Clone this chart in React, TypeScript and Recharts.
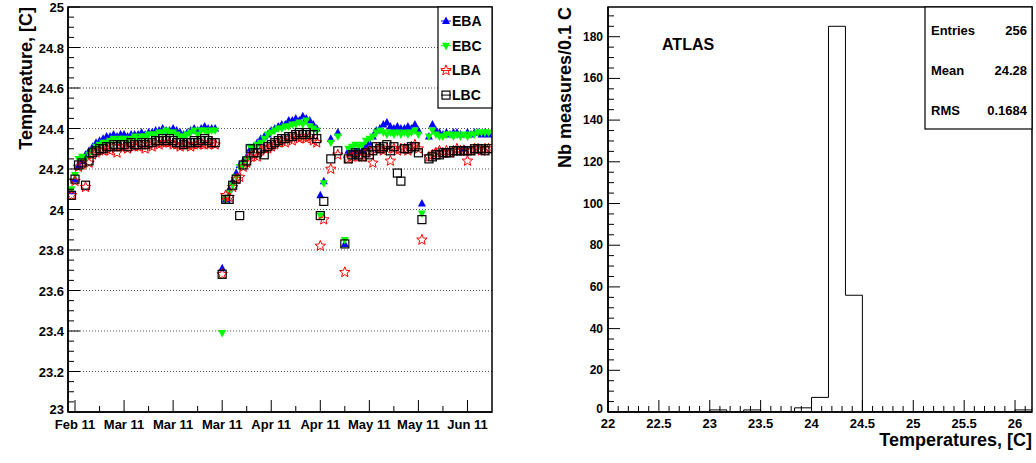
import React from 'react';
import { ScatterChart, Scatter, LineChart, Line, XAxis, YAxis, ReferenceLine } from 'recharts';

const FONT = '"Liberation Sans", Arial, Helvetica, sans-serif';

// ---- left panel: module temperatures vs. time (x = days since 13 Feb 2011) ----
const days = [
  1, 2, 3, 4, 5, 6, 7, 8, 9, 10, 11, 12, 13, 14, 15, 16, 17, 18, 19, 20, 21, 22, 23, 24, 25, 26, 27, 28, 29, 30, 31, 32, 33, 34, 35, 36, 37, 38, 39, 40, 41, 42,
  44, 45, 46, 47, 48, 49, 50, 51, 52, 53, 54, 55, 56, 57, 58, 59, 60, 61, 62, 63, 64, 65, 66, 67, 68, 69, 70, 71,
  72, 73, 75, 77, 79,
  80, 81, 82, 83, 84, 85, 86, 87, 88, 89, 90, 91, 92, 93, 94, 95, 96, 97, 98, 99, 100,
  101,
  103, 104, 105, 106, 107, 108, 109, 110, 111, 112, 113, 114, 115, 116, 117, 118, 119, 120,
];

const eba = [
  24.09, 24.15, 24.22, 24.24, 24.27, 24.29, 24.31, 24.33, 24.34, 24.35,
  24.36, 24.36, 24.37, 24.36, 24.37, 24.37, 24.36, 24.37, 24.37, 24.37,
  24.38, 24.37, 24.38, 24.38, 24.39, 24.39, 24.40, 24.39, 24.39, 24.40,
  24.39, 24.38, 24.37, 24.38, 24.39, 24.40, 24.39, 24.40, 24.41, 24.40, 24.40, 24.40,
  23.71, 24.05, 24.10, 24.14, 24.18, 24.22, 24.24, 24.26, 24.30, 24.31,
  24.33, 24.35, 24.36, 24.37, 24.39, 24.40, 24.41, 24.42, 24.42, 24.44,
  24.44, 24.45, 24.44, 24.46, 24.45, 24.44, 24.42, 24.40,
  24.07, 24.14, 24.35, 24.38, 23.83,
  24.29, 24.28, 24.29, 24.29, 24.29, 24.31, 24.33, 24.36, 24.39, 24.40, 24.42,
  24.43, 24.41, 24.40, 24.41, 24.40, 24.40, 24.41, 24.40, 24.42, 24.39,
  24.03,
  24.36, 24.42, 24.39, 24.38, 24.37, 24.38, 24.37, 24.38, 24.38, 24.37, 24.30, 24.38, 24.37, 24.38, 24.38, 24.37, 24.38, 24.37,
];

const ebc = [
  24.10, 24.17, 24.25, 24.26, 24.25, 24.27, 24.29, 24.31, 24.32, 24.33,
  24.33, 24.34, 24.35, 24.34, 24.35, 24.35, 24.34, 24.35, 24.36, 24.35,
  24.36, 24.36, 24.37, 24.37, 24.37, 24.38, 24.38, 24.39, 24.38, 24.38,
  24.37, 24.36, 24.36, 24.37, 24.38, 24.39, 24.37, 24.39, 24.39, 24.38, 24.39, 24.39,
  23.39, 24.05, 24.08, 24.12, 24.16, 24.21, 24.22, 24.25, 24.31, 24.30,
  24.32, 24.33, 24.35, 24.37, 24.38, 24.39, 24.40, 24.40, 24.41, 24.41,
  24.42, 24.42, 24.43, 24.42, 24.44, 24.41, 24.40, 24.39,
  23.97, 24.13, 24.33, 24.36, 23.85,
  24.30, 24.31, 24.32, 24.31, 24.32, 24.34, 24.35, 24.36, 24.38, 24.39, 24.38,
  24.37, 24.38, 24.37, 24.38, 24.37, 24.38, 24.37, 24.38, 24.39, 24.37,
  23.98,
  24.36, 24.39, 24.37, 24.36, 24.36, 24.37, 24.37, 24.36, 24.37, 24.36, 24.37, 24.36, 24.37, 24.37, 24.38, 24.38, 24.38, 24.38,
];

const lba = [
  24.07, 24.14, 24.21, 24.22, 24.11, 24.23, 24.27, 24.28, 24.29, 24.29,
  24.30, 24.29, 24.31, 24.28, 24.31, 24.31, 24.30, 24.32, 24.31, 24.31,
  24.32, 24.30, 24.32, 24.31, 24.33, 24.32, 24.33, 24.33, 24.33, 24.32,
  24.32, 24.31, 24.32, 24.32, 24.31, 24.32, 24.32, 24.33, 24.32, 24.32, 24.33, 24.32,
  23.68, 24.07, 24.06, 24.11, 24.15, 24.16, 24.21, 24.23, 24.26, 24.27,
  24.26, 24.29, 24.30, 24.30, 24.31, 24.32, 24.33, 24.34, 24.33, 24.35,
  24.34, 24.36, 24.35, 24.36, 24.35, 24.36, 24.34, 24.33,
  23.82, 23.95, 24.20, 24.27, 23.69,
  24.25, 24.26, 24.27, 24.26, 24.26, 24.28, 24.29, 24.23, 24.30, 24.30, 24.29,
  24.30, 24.24, 24.30, 24.29, 24.30, 24.30, 24.29, 24.31, 24.32, 24.30,
  23.85,
  24.26, 24.27, 24.28, 24.29, 24.28, 24.29, 24.28, 24.29, 24.30, 24.29, 24.29, 24.24, 24.29, 24.30, 24.30, 24.29, 24.30, 24.30,
];

const lbc = [
  24.07, 24.15, 24.22, 24.23, 24.12, 24.24, 24.28, 24.29, 24.30, 24.30,
  24.31, 24.31, 24.32, 24.31, 24.32, 24.32, 24.31, 24.33, 24.32, 24.32,
  24.33, 24.32, 24.33, 24.33, 24.34, 24.34, 24.35, 24.34, 24.35, 24.34,
  24.33, 24.33, 24.32, 24.33, 24.33, 24.34, 24.33, 24.34, 24.35, 24.34, 24.33, 24.33,
  23.68, 24.05, 24.05, 24.12, 24.15, 23.97, 24.22, 24.24, 24.30, 24.28,
  24.28, 24.30, 24.27, 24.31, 24.32, 24.33, 24.34, 24.35, 24.35, 24.36,
  24.36, 24.37, 24.38, 24.37, 24.38, 24.37, 24.37, 24.35,
  23.97, 24.04, 24.25, 24.29, 23.83,
  24.25, 24.27, 24.28, 24.27, 24.26, 24.28, 24.27, 24.29, 24.31, 24.30, 24.31,
  24.32, 24.29, 24.31, 24.18, 24.14, 24.30, 24.30, 24.31, 24.31, 24.28,
  23.95,
  24.25, 24.26, 24.27, 24.27, 24.28, 24.28, 24.28, 24.29, 24.29, 24.29, 24.29, 24.29, 24.29, 24.30, 24.30, 24.30, 24.29, 24.30,
];

const dateTicks = [2, 16, 30, 44, 58, 72, 86, 100, 114];
const dateLabels = ['Feb 11', 'Mar 11', 'Mar 11', 'Mar 11', 'Apr 11', 'Apr 11', 'May 11', 'May 11', 'Jun 11'];
const dateMinor = [9, 23, 37, 51, 65, 79, 93, 107];
const tempGrid = [23.2, 23.4, 23.6, 23.8, 24, 24.2, 24.4, 24.6, 24.8];

// ---- right panel: histogram of temperatures ----
const histLow = 22;
const binWidth = 1 / 6;
const counts = [0, 0, 0, 0, 0, 0, 1, 0, 1, 0, 0, 2, 7, 185, 56, 0, 0, 0, 0, 0, 0, 0, 0, 0, 1];
const statNames = ['Entries', 'Mean', 'RMS'];
const statValues = ['256', '24.28', '0.1684'];

const histHigh = histLow + counts.length * binWidth;
const histData = counts.map((n, i) => ({ x: histLow + i * binWidth, n }));
histData.push({ x: histHigh, n: counts[counts.length - 1] });

const dateAll = [...dateTicks, ...dateMinor].sort((a, b) => a - b);
const tempTicks = Array.from({ length: 41 }, (_, i) => +(23 + i * 0.05).toFixed(2));
const histXTicks = Array.from({ length: 42 }, (_, i) => +(22 + i * 0.1).toFixed(1));
const histYTicks = Array.from({ length: 39 }, (_, i) => i * 5);

const series = (vals: number[]) => days.map((d, i) => ({ day: d, t: vals[i] }));

const txt = { fontFamily: FONT, fontWeight: 'bold' as const, fill: '#000' };

const DateTick = ({ x, y, payload }: any) => {
  const i = dateTicks.indexOf(payload.value);
  return (
    <g>
      <line x1={x} y1={y} x2={x} y2={y - (i >= 0 ? 12 : 6)} stroke="#000" />
      {i >= 0 && (
        <text x={x} y={y + 17} textAnchor="middle" fontSize={13} {...txt}>{dateLabels[i]}</text>
      )}
    </g>
  );
};

const TempTick = ({ x, y, payload }: any) => {
  const v = payload.value;
  const major = Math.abs(v * 5 - Math.round(v * 5)) < 1e-6;
  // lowest label sits a little higher, as in the original
  const dy = v === 23 ? 2 : 5;
  return (
    <g>
      <line x1={x} y1={y} x2={x + (major ? 12 : 6)} y2={y} stroke="#000" />
      {major && (
        <text x={x - 4} y={y + dy} textAnchor="end" fontSize={13} {...txt}>{String(+v.toFixed(1))}</text>
      )}
    </g>
  );
};

const HistXTick = ({ x, y, payload }: any) => {
  const v = payload.value;
  const major = Math.abs(v * 2 - Math.round(v * 2)) < 1e-6;
  return (
    <g>
      <line x1={x} y1={y} x2={x} y2={y - (major ? 12 : 6)} stroke="#000" />
      {major && (
        <text x={x} y={y + 16} textAnchor="middle" fontSize={13} {...txt}>{String(v)}</text>
      )}
    </g>
  );
};

const HistYTick = ({ x, y, payload }: any) => {
  const v = payload.value;
  const major = v % 20 === 0;
  const dy = v === 0 ? 1 : 4;
  return (
    <g>
      <line x1={x} y1={y} x2={x + (major ? 12 : 6)} y2={y} stroke="#000" />
      {major && (
        <text x={x - 5} y={y + dy} textAnchor="end" fontSize={12} {...txt}>{String(v)}</text>
      )}
    </g>
  );
};

const triUp = (cx: number, cy: number) => `${cx},${cy - 4.5} ${cx - 4},${cy + 3} ${cx + 4},${cy + 3}`;
const triDown = (cx: number, cy: number) => `${cx},${cy + 4.5} ${cx - 4},${cy - 3} ${cx + 4},${cy - 3}`;
const star = (cx: number, cy: number) => {
  const pts: string[] = [];
  for (let k = 0; k < 10; k++) {
    const a = -Math.PI / 2 + (k * Math.PI) / 5;
    const r = k % 2 === 0 ? 5.5 : 2.4;
    pts.push(`${cx + r * Math.cos(a)},${cy + r * Math.sin(a)}`);
  }
  return pts.join(' ');
};

const Marker = ({ kind, cx, cy }: { kind: string; cx: number; cy: number }) => {
  if (kind === 'EBA') return <polygon points={triUp(cx, cy)} fill="#0000ff" />;
  if (kind === 'EBC') return <polygon points={triDown(cx, cy)} fill="#00ff00" />;
  if (kind === 'LBA') return <polygon points={star(cx, cy)} fill="none" stroke="#ff0000" strokeWidth={1} />;
  return <rect x={cx - 4} y={cy - 4} width={8} height={8} fill="none" stroke="#000" strokeWidth={1.2} />;
};

const legendItems = [
  { name: 'EBA', color: '#0000ff' },
  { name: 'EBC', color: '#00ff00' },
  { name: 'LBA', color: '#ff0000' },
  { name: 'LBC', color: '#000000' },
];
const seriesValues: Record<string, number[]> = { EBA: eba, EBC: ebc, LBA: lba, LBC: lbc };

export default function App() {
  return (
    <div style={{ position: 'absolute', left: 0, top: 0, width: 1036, height: 463, background: '#fff' }}>
      <div style={{ position: 'absolute', left: 0, top: 0 }}>
        <ScatterChart width={500} height={463} margin={{ top: 7, right: 8, bottom: 0, left: 0 }}>
          <XAxis
            type="number"
            dataKey="day"
            domain={[0, 121]}
            ticks={dateAll}
            interval={0}
            tick={<DateTick />}
            tickLine={false}
            tickSize={0}
            tickMargin={0}
            height={51}
            axisLine={{ stroke: '#000', strokeWidth: 1.5 }}
            allowDataOverflow
          />
          <YAxis
            type="number"
            dataKey="t"
            domain={[23, 25]}
            ticks={tempTicks}
            interval={0}
            tick={<TempTick />}
            tickLine={false}
            tickSize={0}
            tickMargin={0}
            width={68}
            axisLine={{ stroke: '#000', strokeWidth: 1.5 }}
            allowDataOverflow
          />
          {tempGrid.map((v) => (
            <ReferenceLine key={v} y={v} stroke="#555" strokeDasharray="1 2" />
          ))}
          {legendItems.map((it) => (
            <Scatter
              key={it.name}
              name={it.name}
              data={series(seriesValues[it.name])}
              isAnimationActive={false}
              shape={(p: any) => <Marker kind={it.name} cx={p.cx} cy={p.cy} />}
            />
          ))}
        </ScatterChart>
      </div>

      <div style={{ position: 'absolute', left: 520, top: 0 }}>
        <LineChart width={516} height={463} data={histData} margin={{ top: 7, right: 4, bottom: 0, left: 0 }}>
          <XAxis
            type="number"
            dataKey="x"
            domain={[histLow, histHigh]}
            ticks={histXTicks}
            interval={0}
            tick={<HistXTick />}
            tickLine={false}
            tickSize={0}
            tickMargin={0}
            height={51}
            axisLine={{ stroke: '#000', strokeWidth: 1.5 }}
            allowDataOverflow
          />
          <YAxis
            type="number"
            domain={[0, 194.25]}
            ticks={histYTicks}
            interval={0}
            tick={<HistYTick />}
            tickLine={false}
            tickSize={0}
            tickMargin={0}
            width={88}
            axisLine={{ stroke: '#000', strokeWidth: 1.5 }}
            allowDataOverflow
          />
          <Line type="stepAfter" dataKey="n" stroke="#000" strokeWidth={1} dot={false} isAnimationActive={false} />
        </LineChart>
      </div>

      <svg width={1036} height={463} style={{ position: 'absolute', left: 0, top: 0, pointerEvents: 'none' }}>
        {/* frames */}
        <rect x={68} y={7} width={424} height={405} fill="none" stroke="#000" strokeWidth={1.5} />
        <rect x={608} y={7} width={424} height={405} fill="none" stroke="#000" strokeWidth={1.5} />

        {/* axis titles */}
        <text transform="translate(32,7) rotate(-90)" textAnchor="end" fontSize={18} {...txt}>Temperature, [C]</text>
        <text transform="translate(571,7) rotate(-90)" textAnchor="end" fontSize={18} {...txt}>Nb measures/0.1 C</text>
        <text x={1032} y={446} textAnchor="end" fontSize={18} {...txt}>Temperatures, [C]</text>

        {/* legend */}
        <rect x={438} y={7} width={54} height={101} fill="#fff" stroke="#000" strokeWidth={1.2} />
        {legendItems.map((it, i) => {
          const cy = 21 + i * 24.7;
          return (
            <g key={it.name}>
              <line x1={441} y1={cy} x2={451} y2={cy} stroke={it.color} strokeWidth={1} />
              <Marker kind={it.name} cx={446} cy={cy} />
              <text x={452} y={cy + 5} fontSize={14} {...txt}>{it.name}</text>
            </g>
          );
        })}

        {/* label */}
        <text x={662} y={50} fontSize={16} {...txt}>ATLAS</text>

        {/* stats box */}
        <rect x={925} y={7} width={107} height={122} fill="#fff" stroke="#000" strokeWidth={1.2} />
        {statNames.map((s, i) => (
          <g key={s}>
            <text x={931} y={35 + i * 40} fontSize={13} {...txt}>{s}</text>
            <text x={1027} y={35 + i * 40} textAnchor="end" fontSize={13} {...txt}>{statValues[i]}</text>
          </g>
        ))}
      </svg>
    </div>
  );
}
